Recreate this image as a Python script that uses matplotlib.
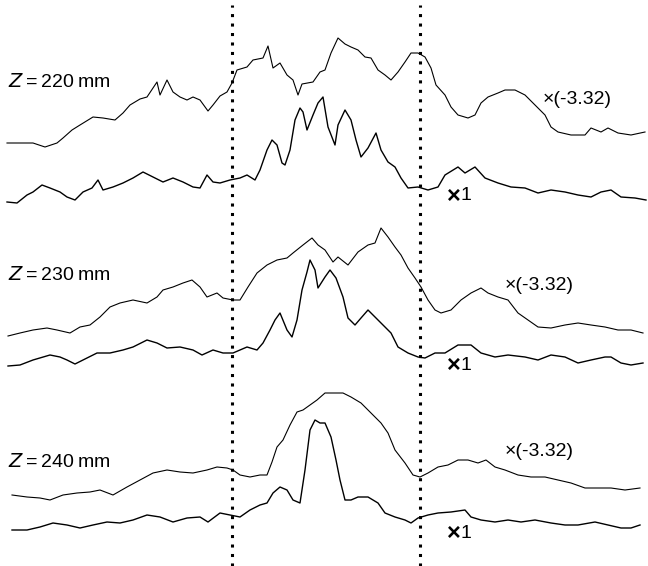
import matplotlib.pyplot as plt

# values, x in pixel columns, y as height (566 - row)
H = 566

x_220a = [7, 20, 33, 45, 57, 63, 72, 80, 93, 103, 115, 123, 130, 140, 147, 157, 160, 167, 173, 180,
          187, 193, 200, 208, 213, 220, 227, 232, 237, 247, 253, 263, 268, 273, 280, 287, 293, 298, 302, 313,
          320, 325, 331, 338, 345, 351, 358, 365, 371, 378, 385, 391, 398, 405, 411, 418, 425, 431, 436, 445,
          451, 458, 468, 475, 481, 488, 498, 505, 515, 525, 535, 545, 551, 558, 571, 585, 591, 601, 608, 618,
          631, 645]
y_220a = [143, 143, 143, 147, 143, 138, 130, 125, 117, 118, 120, 113, 105, 99, 97, 82, 95, 80, 92, 97,
          100, 97, 100, 111, 105, 96, 92, 83, 70, 67, 60, 58, 46, 68, 63, 75, 80, 95, 84, 82,
          72, 70, 53, 38, 44, 47, 50, 57, 58, 70, 75, 80, 72, 62, 53, 53, 57, 68, 85, 95,
          107, 115, 118, 115, 103, 97, 93, 90, 90, 95, 105, 115, 127, 132, 135, 135, 128, 132, 128, 133,
          135, 132]

x_220b = [7, 17, 27, 33, 42, 50, 60, 67, 75, 83, 92, 98, 103, 113, 123, 133, 143, 153, 163, 173,
          183, 193, 200, 207, 213, 220, 230, 240, 247, 255, 260, 267, 272, 277, 282, 285, 290, 295, 300, 303,
          307, 313, 318, 323, 328, 335, 338, 345, 351, 356, 361, 368, 376, 381, 388, 395, 401, 408, 418, 428,
          438, 445, 458, 465, 475, 485, 498, 511, 525, 538, 551, 565, 578, 591, 601, 611, 621, 635, 646]
y_220b = [202, 203, 195, 192, 185, 188, 192, 197, 200, 192, 188, 180, 190, 187, 183, 178, 172, 177, 182, 178,
          182, 187, 188, 175, 182, 183, 180, 178, 175, 180, 170, 150, 140, 145, 163, 165, 150, 120, 108, 112,
          130, 115, 103, 97, 127, 145, 125, 110, 120, 140, 157, 148, 133, 150, 162, 167, 178, 188, 187, 190,
          187, 175, 167, 173, 167, 178, 183, 187, 188, 193, 190, 192, 195, 197, 192, 190, 197, 198, 200]

x_230a = [8, 20, 33, 47, 57, 70, 80, 90, 100, 110, 120, 133, 147, 157, 163, 173, 183, 192, 200, 207,
          217, 223, 233, 240, 248, 257, 267, 277, 287, 293, 303, 312, 318, 325, 333, 338, 348, 358, 368, 375,
          381, 388, 395, 401, 408, 415, 421, 428, 435, 441, 451, 461, 471, 481, 488, 498, 508, 518, 528, 538,
          551, 565, 578, 591, 605, 618, 631, 643]
y_230a = [336, 333, 330, 328, 330, 333, 327, 325, 317, 307, 303, 300, 303, 297, 290, 287, 283, 280, 287, 297,
          293, 298, 300, 300, 287, 273, 265, 260, 258, 253, 245, 238, 245, 250, 262, 257, 265, 252, 245, 243,
          228, 237, 247, 255, 268, 278, 287, 300, 310, 313, 310, 300, 293, 288, 293, 297, 300, 313, 320, 327,
          328, 325, 323, 325, 327, 330, 330, 333]

x_230b = [8, 20, 33, 50, 60, 67, 75, 87, 97, 110, 123, 133, 147, 157, 167, 180, 193, 202, 213, 223,
          233, 247, 257, 263, 270, 275, 280, 287, 292, 297, 302, 307, 310, 315, 318, 325, 330, 336, 343, 348,
          355, 361, 368, 375, 385, 391, 398, 408, 418, 425, 435, 445, 458, 471, 481, 495, 508, 525, 538, 551,
          565, 578, 591, 605, 611, 621, 631, 643]
y_230b = [366, 365, 360, 355, 357, 360, 364, 358, 353, 353, 350, 347, 340, 343, 348, 347, 350, 355, 350, 353,
          353, 347, 350, 343, 330, 320, 313, 330, 337, 320, 290, 272, 260, 270, 288, 277, 270, 278, 297, 318,
          325, 318, 310, 317, 327, 333, 347, 353, 357, 358, 353, 353, 345, 345, 353, 357, 355, 357, 360, 355,
          357, 363, 360, 357, 357, 363, 365, 363]

x_240a = [12, 27, 40, 50, 63, 77, 90, 100, 113, 127, 140, 153, 167, 180, 193, 207, 217, 227, 233, 240,
          250, 260, 267, 272, 277, 283, 290, 297, 303, 310, 317, 325, 335, 343, 351, 361, 371, 381, 388, 395,
          405, 413, 420, 428, 438, 448, 458, 468, 478, 486, 495, 505, 518, 531, 545, 558, 571, 585, 598, 611,
          625, 640]
y_240a = [495, 497, 498, 500, 495, 493, 492, 490, 495, 487, 480, 473, 470, 472, 473, 470, 467, 468, 470, 475,
          477, 475, 475, 462, 447, 440, 425, 412, 410, 405, 400, 393, 393, 393, 397, 403, 413, 423, 433, 450,
          463, 475, 477, 473, 467, 465, 460, 460, 463, 460, 467, 470, 475, 477, 477, 480, 483, 488, 488, 488,
          490, 488]

x_240b = [12, 27, 40, 53, 67, 80, 93, 107, 120, 133, 147, 160, 173, 187, 200, 208, 220, 230, 240, 250,
          260, 267, 273, 280, 287, 293, 300, 305, 310, 315, 320, 325, 331, 336, 340, 345, 351, 358, 368, 378,
          385, 395, 405, 411, 418, 428, 438, 451, 465, 471, 481, 495, 508, 521, 535, 551, 565, 578, 595, 608,
          621, 631, 640]
y_240b = [530, 530, 527, 523, 525, 528, 525, 522, 523, 520, 515, 517, 522, 518, 517, 522, 513, 515, 517, 510,
          505, 503, 493, 487, 490, 500, 503, 470, 430, 420, 423, 423, 437, 460, 480, 500, 500, 497, 497, 503,
          513, 517, 520, 523, 518, 515, 513, 512, 510, 517, 520, 522, 520, 522, 520, 523, 525, 525, 522, 525,
          528, 528, 525]

z_labels = ["220", "230", "240"]
z_label_y = [82, 275, 462]
neg_label = "\u00d7(-3.32)"
neg_pos = [(543, 100), (505, 285), (505, 451)]
one_pos = [(447, 196), (447, 365), (447, 533)]
marker_x = [232, 420]

fig = plt.figure(figsize=(6.48, 5.66), dpi=100)
ax = fig.add_axes([0, 0, 1, 1])
ax.set_xlim(0, 648)
ax.set_ylim(0, H)
ax.axis('off')

upper = [(x_220a, y_220a), (x_230a, y_230a), (x_240a, y_240a)]
lower = [(x_220b, y_220b), (x_230b, y_230b), (x_240b, y_240b)]
for xs, ys in upper:
    ax.plot(xs, [H - v for v in ys], color='black', lw=0.8)
for xs, ys in lower:
    ax.plot(xs, [H - v for v in ys], color='black', lw=1.0)

for xv in marker_x:
    ax.plot([xv, xv], [0, H - 5], color='black', lw=2.2, linestyle=(0, (1, 2.1)))

fam = ['Liberation Sans', 'DejaVu Sans']
for i in range(3):
    ax.text(8, H - z_label_y[i], "$\\it{Z}$\u2009=\u2009" + z_labels[i] + "\u2009mm", fontsize=14,
            family=fam, va='center', ha='left')
    ax.text(neg_pos[i][0], H - neg_pos[i][1], neg_label, fontsize=14, family=fam,
            va='center', ha='left')
    # the x1 labels have a heavier, larger multiplication sign
    ax.text(one_pos[i][0], H - one_pos[i][1], "\u00d7", fontsize=17, fontweight='bold',
            family=fam, va='center', ha='left')
    ax.text(one_pos[i][0] + 14, H - one_pos[i][1], "1", fontsize=14, family=fam,
            va='center', ha='left')

plt.savefig("out.png", dpi=100)
